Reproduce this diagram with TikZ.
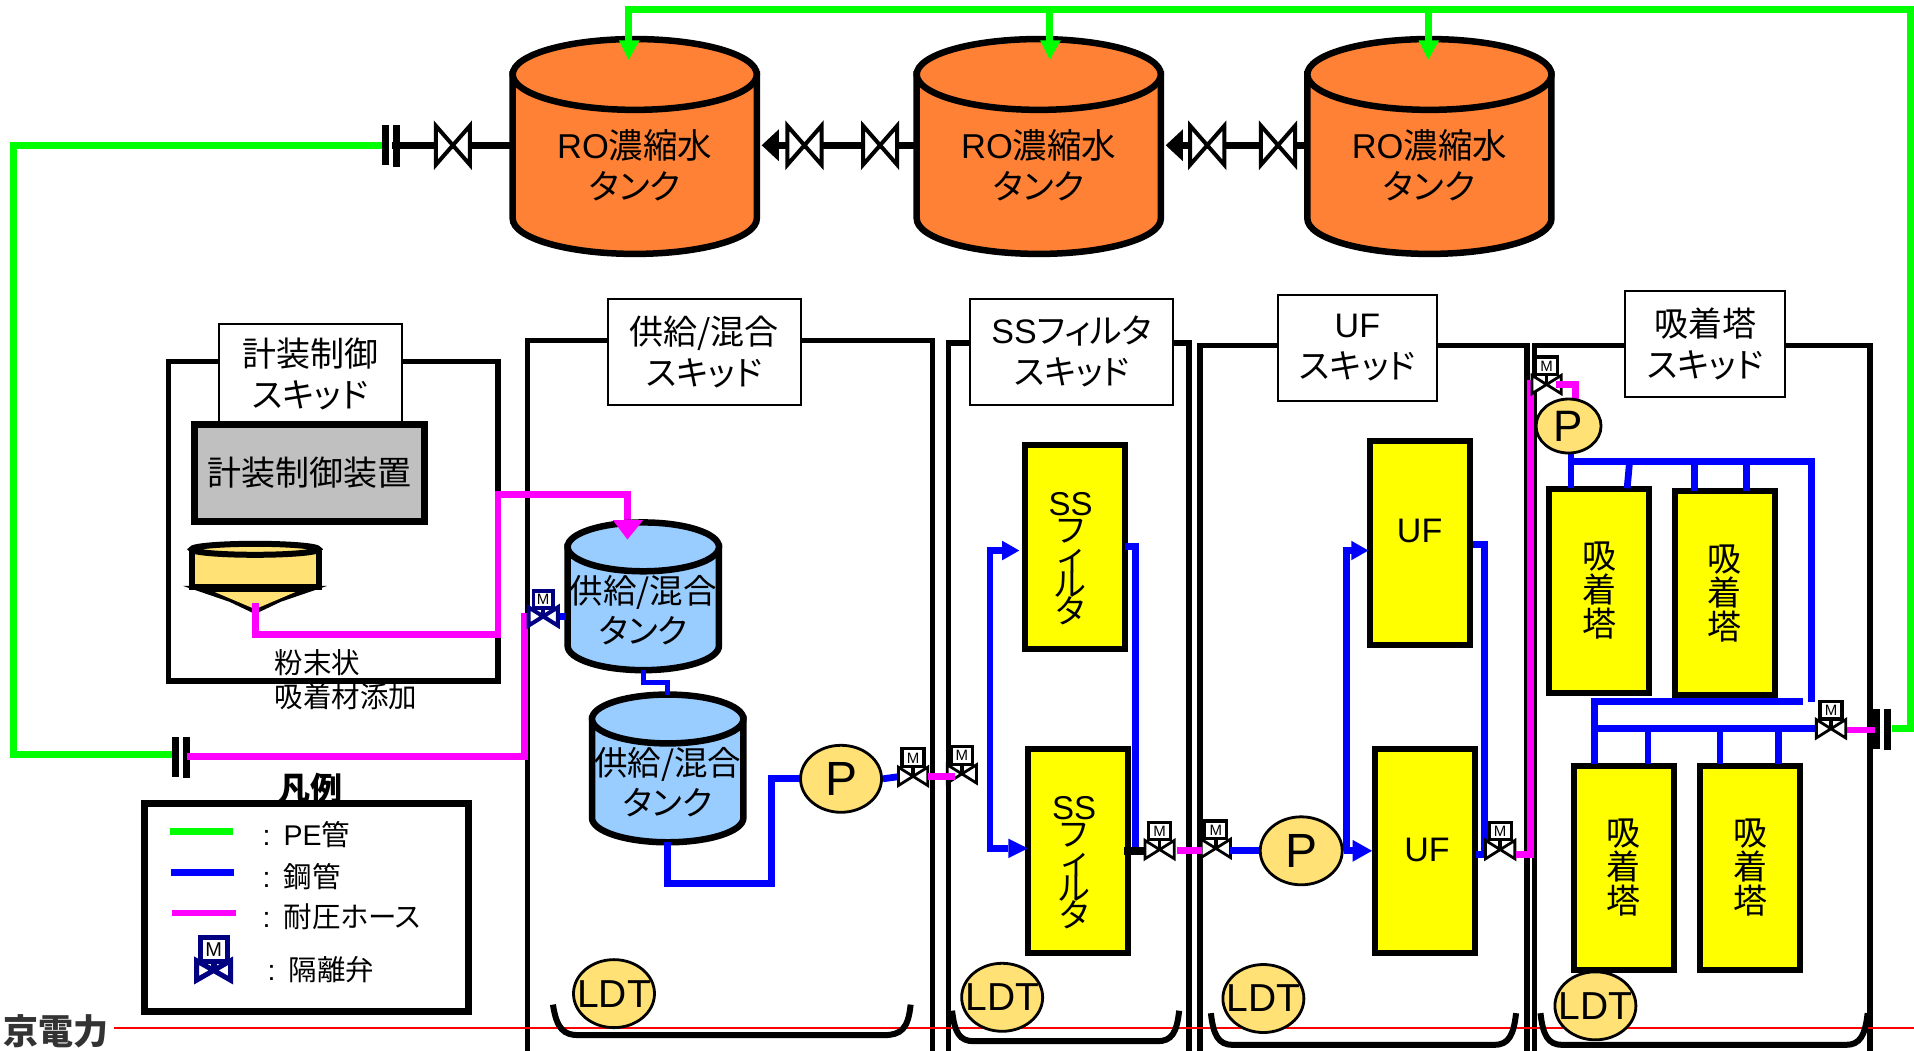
\documentclass[tikz,border=0pt]{standalone}
\usepackage{fontspec}
\setmainfont{Liberation Sans}
\newfontfamily\cjkfont[RawFeature=+palt]{Noto Sans CJK JP}
\newcommand{\J}[1]{{\cjkfont #1}}
\usetikzlibrary{arrows.meta,shapes.geometric}
\definecolor{orangetank}{HTML}{FF8135}
\definecolor{bluetank}{HTML}{99CCFF}
\definecolor{hopper}{HTML}{FFE175}
\definecolor{pegreen}{HTML}{00FF00}
\definecolor{steelblue}{HTML}{0000FF}
\definecolor{hosepink}{HTML}{FF00FF}
\definecolor{navyvalve}{HTML}{000080}
\definecolor{greybox}{HTML}{C0C0C0}
\definecolor{vesselyellow}{RGB}{255,255,0}
\AtBeginDocument{\lineskiplimit=-50pt\relax}
% cylinder: line width, cx, top, bottom, rx, ry, fill
\newcommand{\cyl}[7]{%
  \filldraw[fill=#7,draw=black,line width=#1pt] (#2-#5,#3+#6) -- (#2-#5,#4-#6) arc[start angle=180,end angle=360,x radius=#5,y radius=-#6] -- (#2+#5,#3+#6) -- cycle;
  \filldraw[fill=#7,draw=black,line width=#1pt] (#2,#3+#6) ellipse[x radius=#5,y radius=#6];
}
\tikzset{
  x=1.2207pt,y=-1.2207pt,
  pipegreen/.style={draw=pegreen,line width=6.8pt},
  pipeblue/.style={draw=steelblue,line width=6.8pt},
  pipepink/.style={draw=hosepink,line width=6.8pt},
  pipeblack/.style={draw=black,line width=7.5pt},
  skid/.style={draw=black,line width=5.5pt},
  skidlabel/.style={draw=black,fill=white,line width=2pt,align=center,font=\fontsize{34}{41}\selectfont,inner sep=0pt},
  tanktext/.style={align=center,font=\fontsize{34.5}{41}\selectfont,inner sep=0pt},
  vessel/.style={draw=black,fill=vesselyellow,line width=6pt,inner sep=0pt,align=center,minimum width=100pt,minimum height=204pt},
  vtext/.style={inner sep=0pt,align=center,font=\fontsize{34}{34}\selectfont},
  stack/.style={inner sep=0pt,align=center,font=\fontsize{33}{27}\selectfont},
  pumpshape/.style={draw=black,fill=hopper,line width=2.8pt,ellipse,inner sep=0pt},
  ptext/.style={font=\fontsize{48}{48}\selectfont,inner sep=0pt},
  ldtshape/.style={draw=black,fill=hopper,line width=2.8pt,ellipse,minimum width=81pt,minimum height=68pt,inner sep=0pt},
  ldttext/.style={font=\fontsize{39}{39}\selectfont,inner sep=0pt},
  pan/.style={draw=black,line width=6pt},
  smalltext/.style={inner sep=0pt,anchor=west,font=\fontsize{28.5}{28.5}\selectfont},
  bowtie/.pic={
    \draw[black,fill=white,line width=4pt,line join=miter] (-14,-16) -- (14,16) -- (14,-16) -- (-14,16) -- cycle;
  },
  mvalve/.pic={
    \draw[black,fill=white,line width=2.8pt,line join=miter] (-12,-7.5) -- (12,7.5) -- (12,-7.5) -- (-12,7.5) -- cycle;
    \draw[black,line width=3.5pt] (0,-8) -- (0,0);
    \filldraw[draw=black,fill=white,line width=3.2pt] (-9,-22.5) rectangle (9,-8);
    \node[font=\fontsize{15}{15}\selectfont,inner sep=0pt,text=black] at (0,-15) {M};
  },
  navysmall/.pic={
    \draw[navyvalve,fill=white,line width=4pt,line join=miter] (-12,-7.5) -- (12,7.5) -- (12,-7.5) -- (-12,7.5) -- cycle;
    \draw[navyvalve,line width=4pt] (0,-8) -- (0,0);
    \filldraw[draw=navyvalve,fill=white,line width=3.6pt] (-8,-21) rectangle (8,-7);
    \node[font=\fontsize{15}{15}\selectfont,inner sep=0pt,text=black] at (0,-14) {M};
  },
  navybig/.pic={
    \draw[navyvalve,fill=white,line width=5pt,line join=miter] (-14,-8) -- (14,8) -- (14,-8) -- (-14,8) -- cycle;
    \draw[navyvalve,line width=6pt] (0,-9) -- (0,0);
    \filldraw[draw=navyvalve,fill=white,line width=5pt] (-11,-27) rectangle (11,-7);
    \node[font=\fontsize{20}{20}\selectfont,inner sep=0pt,text=black] at (0,-17) {M};
  },
  flange/.pic={
    \fill[black] (-8,-16.5) rectangle (-2,16.5);
    \fill[black] (1,-16.5) rectangle (7,17.5);
  },
}
\begin{document}
\begin{tikzpicture}
\useasboundingbox (0,0) rectangle (1568,861);
\fill[white] (0,0) rectangle (1568,861);

% --- skid frames
\draw[skid] (138,558) rectangle (408,296);
\draw[skid] (432,861) -- (432,279) -- (764,279) -- (764,861);
\draw[skid] (777,861) -- (777,281) -- (974,281) -- (974,861);
\draw[skid] (983,861) -- (983,283) -- (1251,283) -- (1251,861);
\draw[skid] (1257,861) -- (1257,283) -- (1532,283) -- (1532,861);

% --- skid labels
\node[skidlabel,minimum width=183pt,minimum height=99pt] (skA) at (254,306) {\J{計装制御}\\\J{スキッド}};
\node[skidlabel,minimum width=193pt,minimum height=106pt] (skB) at (577,288) {\J{供給/混合}\\\J{スキッド}};
\node[skidlabel,minimum width=203pt,minimum height=106pt] (skC) at (878,288) {SS\J{フィルタ}\\\J{スキッド}};
\node[skidlabel,minimum width=159pt,minimum height=106pt] (skD) at (1112,285) {UF\\\J{スキッド}};
\node[skidlabel,minimum width=160pt,minimum height=106pt] (skE) at (1397,282) {\J{吸着塔}\\\J{スキッド}};

% --- red base line and cut-off caption
\draw[red,line width=2.6pt] (93,842) -- (1568,842);
\node[inner sep=0pt,text=black!80,font=\fontsize{35}{35}\selectfont] (cap) at (46,845) {\J{\bfseries 京電力}};

% --- named points
\coordinate (rt1) at (519,119); \coordinate (rt2) at (851,119); \coordinate (rt3) at (1171,119);
\coordinate (fl1) at (321,119); \coordinate (fl2) at (149,620); \coordinate (fl3) at (1542,597);
\coordinate (fl1g) at (314,119); \coordinate (fl2g) at (143,618); \coordinate (fl2p) at (153,620); \coordinate (fl3g) at (1550,597);
\coordinate (va) at (371,119); \coordinate (vb) at (659,119); \coordinate (vc) at (721,119);
\coordinate (vd) at (989,119); \coordinate (ve) at (1047,119);
\coordinate (m0) at (445,505); \coordinate (m1) at (748,636); \coordinate (m2) at (788,634);
\coordinate (m3) at (950,696); \coordinate (m4) at (996,695); \coordinate (m5) at (1229,696);
\coordinate (m6) at (1267,315); \coordinate (m7) at (1500,597);

% --- black lines between tanks
\draw[pipeblack] (fl1) -- (rt1);
\draw[pipeblack] (rt2) -- (632,119);
\draw[pipeblack] (rt3) -- (962,119);
\fill[black] (624,119) -- (638,106) -- (638,132) -- cycle;
\fill[black] (955,119) -- (969,106) -- (969,132) -- cycle;

% --- orange tanks
\cyl{6.5}{520}{32}{208}{100}{29}{orangetank}
\cyl{6.5}{851}{32}{208}{100}{29}{orangetank}
\cyl{6.5}{1171}{32}{208}{100}{29}{orangetank}
\node[tanktext] (t1) at (520,135) {RO\J{濃縮水}\\\J{タンク}};
\node[tanktext] (t2) at (851,135) {RO\J{濃縮水}\\\J{タンク}};
\node[tanktext] (t3) at (1171,135) {RO\J{濃縮水}\\\J{タンク}};

\pic at (va) {bowtie}; \pic at (vb) {bowtie}; \pic at (vc) {bowtie};
\pic at (vd) {bowtie}; \pic at (ve) {bowtie};

% --- green PE lines
\draw[pipegreen] (fl1g) -| (11,618) -- (fl2g);
\coordinate (gtop) at (515,8); \coordinate (gr) at (1565,8);
\coordinate (g2) at (860,8); \coordinate (g3) at (1170,8);
\draw[pipegreen] (515,36) -- (gtop) -- (gr) -- (1565,597) -- (fl3g);
\draw[pipegreen] (g2) -- (860,36);
\draw[pipegreen] (g3) -- (1170,36);
\fill[pegreen] (515,49) -- (507,33) -- (524,33) -- cycle;
\fill[pegreen] (860,49) -- (852,33) -- (869,33) -- cycle;
\fill[pegreen] (1170,49) -- (1162,33) -- (1179,33) -- cycle;
\pic at (fl1) {flange}; \pic at (fl2) {flange}; \pic at (fl3) {flange};

% --- control skid
\node[draw=black,fill=greybox,line width=6.5pt,minimum width=230pt,minimum height=97pt,inner sep=0pt,font=\fontsize{34}{34}\selectfont] (ctrl) at (253.5,387.5) {\J{計装制御装置}};
% hopper
\filldraw[fill=hopper,draw=black,line width=6pt,line join=miter] (157,451) -- (157,481) -- (261,481) -- (261,451);
\fill[black] (150,480) -- (268,480) -- (230,493) -- (209,503) -- (188,493) -- cycle;
\fill[hopper] (176,485) -- (242,485) -- (209,499) -- cycle;
\filldraw[fill=hopper,draw=black,line width=6pt] (209,450) ellipse[x radius=52,y radius=4.5];

% --- pink from hopper and from flange
\coordinate (hop) at (209,494);
\draw[pipepink] (hop) -- (209,520) -- (408,520) -- (408,405) -- (514,405) -- (514,427);

% --- blue tanks
\cyl{6.5}{527}{428}{549}{62}{20}{bluetank}
\cyl{6.5}{547}{569}{690}{62}{20}{bluetank}
\fill[hosepink] (514,442) -- (502,426) -- (527,426) -- cycle;
\node[tanktext,font=\fontsize{33.5}{40}\selectfont] (ta) at (527,500) {\J{供給/混合}\\\J{タンク}};
\node[tanktext,font=\fontsize{33.5}{40}\selectfont] (tb) at (547,641) {\J{供給/混合}\\\J{タンク}};
\draw[pipeblue,line width=5.5pt] (527,549) -- (527,559) -- (547,559) -- (547,569);
\draw[pipeblue] (547,690) -- (547,724) -- (632,724) -- (632,638) -- (656,638);
\draw[pipepink] (fl2p) -- (430,620) -- (430,505) -- (437,505);
\draw[pipeblue] (452,505) -- (464,505);
\pic at (m0) {navysmall};

\node[pumpshape,minimum width=81pt,minimum height=67pt] (p1) at (689,638) {};
\node[ptext] at (p1) {P};
\draw[pipeblue] (p1.east) -- (738,636);
\pic at (m1) {mvalve}; \pic at (m2) {mvalve};
\draw[pipepink] (760,636) -- (782,636);

% --- SS filter
\node[vessel] (ss1) at (881,448.5) {};
\node[vessel] (ss2) at (883,697) {};
\node[stack] (sst1) at (877,457.5) {SS\\\J{フ}\\\J{ィ}\\\J{ル}\\\J{タ}};
\node[stack] (sst2) at (880,707) {SS\\\J{フ}\\\J{ィ}\\\J{ル}\\\J{タ}};
\draw[pipeblue] (922,448) -- (930,448) -- (930,697);
\draw[pipeblue] (822,451) -- (811,451) -- (811,695) -- (826,695);
\fill[steelblue] (835,451) -- (821,443) -- (821,459) -- cycle;
\fill[steelblue] (842,695) -- (826,687) -- (826,703) -- cycle;
\draw[pipeblack] (921,697) -- (938,697);
\pic at (m3) {mvalve}; \pic at (m4) {mvalve};
\draw[pipepink] (964,697) -- (985,697);
\draw[pipeblue] (1008,697) -- (1032,697);

% --- UF
\node[vessel] (uf1) at (1163,445) {};
\node[vessel] (uf2) at (1167,697) {};
\node[vtext] (uft1) at (1163,435) {UF};
\node[vtext] (uft2) at (1169,696) {UF};
\node[pumpshape,minimum width=82pt,minimum height=68pt] (p2) at (1066,697) {};
\node[ptext] at (p2) {P};
\draw[pipeblue] (p2.east) -- (1110,697);
\fill[steelblue] (1124,697) -- (1108,688) -- (1108,706) -- cycle;
\draw[pipeblue] (1103,697) -- (1103,451) -- (1110,451);
\fill[steelblue] (1121,451) -- (1107,443) -- (1107,459) -- cycle;
\draw[pipeblue] (1207,446) -- (1216,446) -- (1216,700) -- (1209,700);
\pic at (m5) {mvalve};
\draw[pipepink] (1242,700) -- (1254,700) -- (1254,314) -- (1262,314);
\pic at (m6) {mvalve};
\draw[pipepink] (1275,315) -- (1291,315) -- (1291,330);

% --- adsorption
\node[vessel] (a1) at (1310,484) {};
\node[vessel] (a2) at (1413,486) {};
\node[vessel] (a3) at (1330,711) {};
\node[vessel] (a4) at (1434,711) {};
\node[vtext] (at1) at (1310,484) {\J{吸}\\\J{着}\\\J{塔}};
\node[vtext] (at2) at (1413,486) {\J{吸}\\\J{着}\\\J{塔}};
\node[vtext] (at3) at (1330,711) {\J{吸}\\\J{着}\\\J{塔}};
\node[vtext] (at4) at (1434,711) {\J{吸}\\\J{着}\\\J{塔}};
\draw[pipeblue] (1287,368) -- (1287,400);
\draw[pipeblue] (1287,378) -- (1484,378) -- (1484,575);
\draw[pipeblue] (1335,378) -- (1333,400);
\draw[pipeblue] (1388,378) -- (1388,402);
\draw[pipeblue] (1431,378) -- (1431,402);
\draw[pipeblue] (1477,575) -- (1306,575) -- (1306,626);
\draw[pipeblue] (1306,597) -- (1490,597);
\draw[pipeblue] (1350,597) -- (1350,626);
\draw[pipeblue] (1409,597) -- (1409,626);
\draw[pipeblue] (1457,597) -- (1457,626);
\pic at (m7) {mvalve};
\draw[pipepink] (1513,598) -- (1536,598);
\node[pumpshape,minimum width=65pt,minimum height=54pt] (p3) at (1285,349) {};
\node[ptext,font=\fontsize{44}{44}\selectfont] at (p3) {P};

% --- LDT with catch pans
\draw[pan] (453,823) .. controls (456,843) and (462,848) .. (474,848) -- (724,848) .. controls (738,848) and (744,843) .. (746,823);
\draw[pan] (780,828) .. controls (782,846) and (786,853) .. (798,853) -- (948,853) .. controls (960,853) and (964,846) .. (966,828);
\draw[pan] (992,830) .. controls (994,848) and (998,856) .. (1010,856) -- (1224,856) .. controls (1236,856) and (1240,848) .. (1242,830);
\draw[pan] (1262,830) .. controls (1264,848) and (1268,856) .. (1280,856) -- (1512,856) .. controls (1524,856) and (1528,848) .. (1530,830);
\node[ldtshape] (l1) at (503,814) {}; \node[ldttext] at (l1) {LDT};
\node[ldtshape] (l2) at (821,817) {}; \node[ldttext] at (l2) {LDT};
\node[ldtshape] (l3) at (1035,818) {}; \node[ldttext] at (l3) {LDT};
\node[ldtshape] (l4) at (1307,824) {}; \node[ldttext] at (l4) {LDT};

% --- powder caption
\node[smalltext] (pw1) at (225,543) {\J{粉末状}};
\node[smalltext] (pw2) at (225,571) {\J{吸着材添加}};

% --- legend
\node[inner sep=0pt,font=\fontsize{32}{32}\selectfont] (lt) at (254,646) {\J{\bfseries 凡例}};
\node[draw=black,fill=white,line width=6.5pt,minimum width=324pt,minimum height=208pt,inner sep=0pt] (leg) at (251,743.5) {};
\coordinate (la) at (139,681); \coordinate (lb) at (191,681);
\coordinate (lc) at (140,715); \coordinate (ld) at (192,715);
\coordinate (le) at (141,748); \coordinate (lf) at (193,748);
\draw[pipegreen] (la) -- (lb);
\draw[pipeblue] (lc) -- (ld);
\draw[pipepink] (le) -- (lf);
\node[smalltext] (ltx1) at (215,684) {\makebox[21pt][l]{:}PE\J{管}};
\node[smalltext] (ltx2) at (215,718) {\makebox[21pt][l]{:}\J{鋼管}};
\node[smalltext] (ltx3) at (215,751) {\makebox[21pt][l]{:}\J{耐圧ホース}};
\node[smalltext] (ltx4) at (219,794) {\makebox[21pt][l]{:}\J{隔離弁}};
\coordinate (lv) at (175,795);
\pic at (lv) {navybig};
\end{tikzpicture}
\end{document}
